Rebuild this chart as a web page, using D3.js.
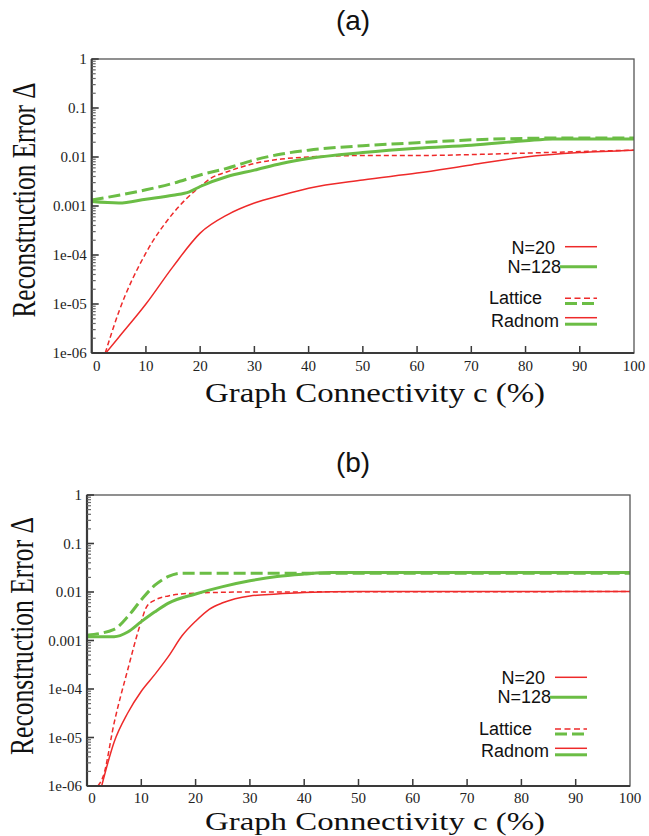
<!DOCTYPE html>
<html>
<head>
<meta charset="utf-8">
<script src="https://cdn.jsdelivr.net/npm/d3@7"></script>
<style>
  html, body { margin: 0; padding: 0; background: #fff; }
  svg { display: block; }
</style>
</head>
<body>
<div id="chart"></div>
<script>
// values (connectivity c in %, reconstruction error)
const xTicks = [0, 10, 20, 30, 40, 50, 60, 70, 80, 90, 100];
const yTicks = [1e-6, 1e-5, 1e-4, 1e-3, 1e-2, 1e-1, 1];
const yTickLabels = ['1e-06', '1e-05', '1e-04', '0.001', '0.01', '0.1', '1'];

// panel (a)
const aRandom20C   = [2.6, 5, 10, 15, 20, 25, 30, 35, 40, 50, 60, 70, 80, 90, 100];
const aRandom20V   = [1e-6, 2.1e-6, 1.0e-5, 5.8e-5, 2.8e-4, 6.6e-4, 1.15e-3, 1.66e-3, 2.3e-3, 3.4e-3, 4.7e-3, 6.9e-3, 0.010, 0.0123, 0.0138];
const aLattice20C  = [2.5, 5, 10, 15, 20, 22, 25, 30, 35, 40, 50, 60, 70, 80, 90, 100];
const aLattice20V  = [1e-6, 6.9e-6, 1.1e-4, 7.1e-4, 2.5e-3, 3.7e-3, 5.0e-3, 7.4e-3, 9.1e-3, 0.0100, 0.0107, 0.0107, 0.0112, 0.0120, 0.0129, 0.0138];
const aRandom128C  = [0, 5, 10, 15, 18, 20, 25, 30, 35, 40, 50, 60, 70, 80, 85, 90, 100];
const aRandom128V  = [1.23e-3, 1.15e-3, 1.38e-3, 1.66e-3, 1.95e-3, 2.5e-3, 4.0e-3, 5.4e-3, 7.4e-3, 9.3e-3, 0.0123, 0.0151, 0.0174, 0.0214, 0.0234, 0.0234, 0.0234];
const aLattice128C = [0, 5, 10, 15, 20, 25, 30, 35, 40, 50, 60, 70, 80, 90, 100];
const aLattice128V = [1.32e-3, 1.66e-3, 2.14e-3, 2.9e-3, 4.3e-3, 5.9e-3, 8.7e-3, 0.0115, 0.0138, 0.0170, 0.0195, 0.0224, 0.0240, 0.0245, 0.0245];

// panel (b)
const bRandom20C   = [2.7, 5, 7.5, 10, 12.5, 15, 17.5, 20, 22.5, 25, 30, 35, 40, 50, 100];
const bRandom20V   = [1e-6, 8.1e-6, 3.2e-5, 9.0e-5, 2.0e-4, 4.7e-4, 1.25e-3, 2.5e-3, 4.4e-3, 6.0e-3, 8.3e-3, 9.1e-3, 9.8e-3, 0.0102, 0.0102];
const bLattice20C  = [2, 3, 5, 7.5, 10, 11, 12.5, 15, 20, 30, 100];
const bLattice20V  = [1e-6, 1.6e-6, 2e-5, 2.5e-4, 2.5e-3, 5e-3, 6.8e-3, 8.3e-3, 9.5e-3, 0.0100, 0.0102];
const bRandom128C  = [0, 5, 7.5, 10, 12.5, 15, 20, 25, 30, 35, 40, 45, 100];
const bRandom128V  = [1.2e-3, 1.2e-3, 1.5e-3, 2.45e-3, 3.9e-3, 5.9e-3, 9.1e-3, 0.0129, 0.0170, 0.0209, 0.0234, 0.0251, 0.0251];
const bLattice128C = [0, 5, 7.5, 10, 12.5, 15, 17.5, 20, 100];
const bLattice128V = [1.29e-3, 1.7e-3, 3.1e-3, 6.9e-3, 0.0138, 0.0209, 0.0245, 0.0245, 0.0245];

const legendLabels = ['N=20', 'N=128', 'Lattice', 'Radnom'];

const RED = '#ee2a2a', GREEN = '#6bbd45', AXIS = '#3a3a3a';
const SERIF = '"Liberation Serif", "Times New Roman", serif';
const SANS = '"Liberation Sans", Arial, sans-serif';

const W = 649, H = 836;
const svg = d3.select('#chart').append('svg').attr('width', W).attr('height', H);

const zip = (cs, vs) => cs.map((c, i) => ({ c, v: vs[i] }));

const panels = [
  { title: '(a)', left: 91.7, right: 634, top: 59, bottom: 353,
    titleY: 30, tickLabelY: 371, xLabelY: 402, xLabelSize: 27, yLabelX: 35, yLabelMid: 200, yLabelLen: 235,
    legend: { x: 597, y: 246.7 },
    series: [
      { d: zip(aRandom20C, aRandom20V), color: RED, w: 1.5, dash: null },
      { d: zip(aLattice20C, aLattice20V), color: RED, w: 1.5, dash: '5,3' },
      { d: zip(aLattice128C, aLattice128V), color: GREEN, w: 3, dash: '12,5' },
      { d: zip(aRandom128C, aRandom128V), color: GREEN, w: 3, dash: null }
    ] },
  { title: '(b)', left: 87, right: 630, top: 495, bottom: 786,
    titleY: 472, tickLabelY: 803, xLabelY: 830, xLabelSize: 25.5, yLabelX: 33, yLabelMid: 636, yLabelLen: 238,
    legend: { x: 587, y: 677.3 },
    series: [
      { d: zip(bRandom20C, bRandom20V), color: RED, w: 1.5, dash: null },
      { d: zip(bLattice20C, bLattice20V), color: RED, w: 1.5, dash: '5,3' },
      { d: zip(bLattice128C, bLattice128V), color: GREEN, w: 3, dash: '12,5' },
      { d: zip(bRandom128C, bRandom128V), color: GREEN, w: 3, dash: null }
    ] }
];

panels.forEach(p => {
  const x = d3.scaleLinear().domain([0, 100]).range([p.left, p.right]);
  const y = d3.scaleLog().domain([1e-6, 1]).range([p.bottom, p.top]);
  const g = svg.append('g');

  // title
  g.append('text').attr('x', 353).attr('y', p.titleY)
    .attr('text-anchor', 'middle').attr('font-family', SANS).attr('font-size', 28)
    .attr('fill', '#111').text(p.title);

  // clip the curves to the frame
  const clipId = 'clip' + p.title.replace(/\W/g, '');
  svg.append('clipPath').attr('id', clipId).append('rect')
    .attr('x', p.left).attr('y', p.top).attr('width', p.right - p.left).attr('height', p.bottom - p.top);

  const line = d3.line().x(d => x(d.c)).y(d => y(d.v)).curve(d3.curveMonotoneX);
  const curves = g.append('g').attr('clip-path', `url(#${clipId})`);
  p.series.forEach(s => {
    curves.append('path').datum(s.d).attr('d', line)
      .attr('fill', 'none').attr('stroke', s.color).attr('stroke-width', s.w)
      .attr('stroke-dasharray', s.dash).attr('stroke-linejoin', 'round');
  });

  // frame
  g.append('rect').attr('x', p.left).attr('y', p.top)
    .attr('width', p.right - p.left).attr('height', p.bottom - p.top)
    .attr('fill', 'none').attr('stroke', '#555').attr('stroke-width', 1.3);
  g.append('line').attr('x1', p.left).attr('x2', p.left).attr('y1', p.top).attr('y2', p.bottom)
    .attr('stroke', AXIS).attr('stroke-width', 2.2);
  g.append('line').attr('x1', p.left).attr('x2', p.right).attr('y1', p.bottom).attr('y2', p.bottom)
    .attr('stroke', AXIS).attr('stroke-width', 2.2);

  // y ticks: majors and log minors, pointing inward
  const minors = [];
  for (let e = -6; e < 0; e++) for (let m = 2; m <= 9; m++) minors.push(m * Math.pow(10, e));
  g.selectAll(null).data(minors).join('line')
    .attr('x1', p.left).attr('x2', p.left + 4)
    .attr('y1', d => y(d)).attr('y2', d => y(d))
    .attr('stroke', '#666').attr('stroke-width', 1.2);
  g.selectAll(null).data(yTicks).join('line')
    .attr('x1', p.left).attr('x2', p.left + 7)
    .attr('y1', d => y(d)).attr('y2', d => y(d))
    .attr('stroke', AXIS).attr('stroke-width', 1.6);
  g.selectAll(null).data(yTicks).join('text')
    .attr('x', p.left - 5).attr('y', d => y(d) + 5)
    .attr('text-anchor', 'end').attr('font-family', SERIF).attr('font-size', 15)
    .attr('fill', '#222').text((d, i) => yTickLabels[i]);

  // x ticks
  g.selectAll(null).data(xTicks.slice(1, -1)).join('line')
    .attr('x1', d => x(d)).attr('x2', d => x(d))
    .attr('y1', p.bottom).attr('y2', p.bottom - 7)
    .attr('stroke', AXIS).attr('stroke-width', 1.5);
  g.selectAll(null).data(xTicks).join('text')
    .attr('x', d => x(d) + (d === 0 ? 5 : 0)).attr('y', p.tickLabelY)
    .attr('text-anchor', 'middle').attr('font-family', SERIF).attr('font-size', 15)
    .attr('fill', '#222').text(d => d);

  // axis titles
  g.append('text').attr('x', 375).attr('y', p.xLabelY)
    .attr('text-anchor', 'middle').attr('font-family', SERIF).attr('font-size', p.xLabelSize)
    .attr('textLength', 340).attr('lengthAdjust', 'spacingAndGlyphs')
    .attr('fill', '#111').text('Graph Connectivity c (%)');
  g.append('text').attr('transform', `translate(${p.yLabelX},${p.yLabelMid}) rotate(-90)`)
    .attr('text-anchor', 'middle').attr('font-family', SERIF).attr('font-size', 34)
    .attr('textLength', p.yLabelLen).attr('lengthAdjust', 'spacingAndGlyphs')
    .attr('fill', '#111').text('Reconstruction Error Δ');

  // legend
  const L = p.legend;
  const lg = g.append('g').attr('transform', `translate(${L.x},${L.y})`);
  const txt = (tx, ty, s) => lg.append('text').attr('x', tx).attr('y', ty)
    .attr('text-anchor', 'end').attr('font-family', SANS).attr('font-size', 18)
    .attr('fill', '#111').text(s);
  const seg = (x1, yy, color, w, dash) => lg.append('line')
    .attr('x1', x1).attr('x2', 0).attr('y1', yy).attr('y2', yy)
    .attr('stroke', color).attr('stroke-width', w).attr('stroke-dasharray', dash);
  txt(-42, 7, legendLabels[0]);    seg(-32, 0, RED, 1.5, null);
  txt(-36, 26, legendLabels[1]);   seg(-37, 20, GREEN, 3, null);
  txt(-55, 57.5, legendLabels[2]); seg(-32, 51.6, RED, 1.5, '6,3.5'); seg(-32, 56.8, GREEN, 3, '12,5');
  txt(-38, 80, legendLabels[3]);   seg(-32, 71, RED, 1.5, null);     seg(-32, 77.5, GREEN, 3, null);
});
</script>
</body>
</html>
